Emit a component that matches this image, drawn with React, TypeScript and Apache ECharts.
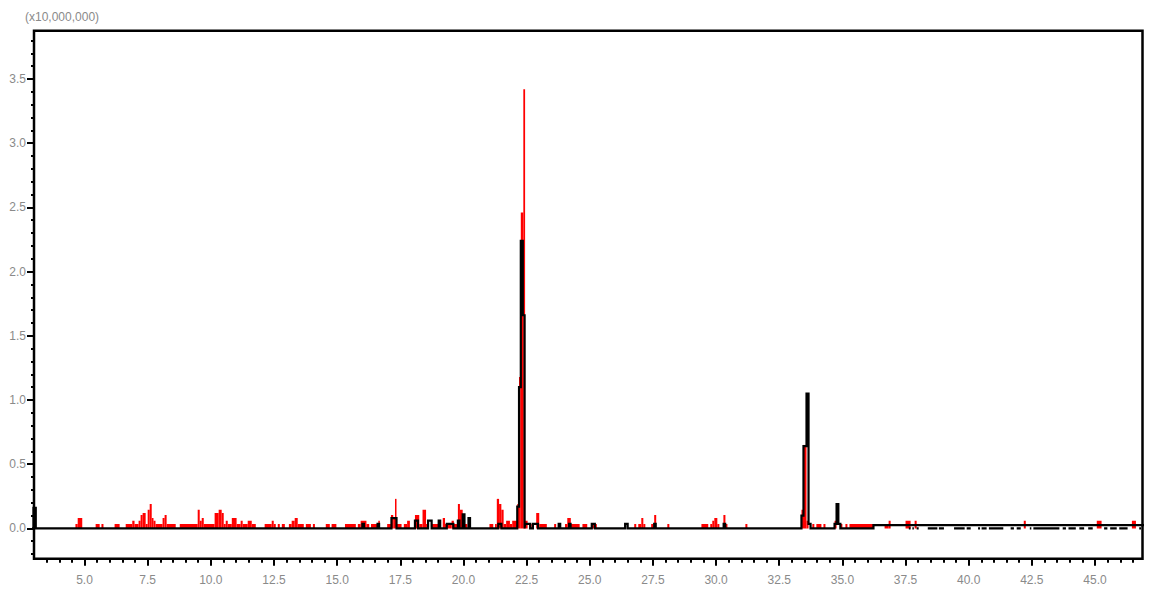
import React, { useEffect, useRef } from "react";
import * as echarts from "echarts";

const XMIN = 3.0;
const XMAX = 46.88;
const YMIN = -0.236;
const YMAX = 3.876;

const xMajorTicks = [5, 7.5, 10, 12.5, 15, 17.5, 20, 22.5, 25, 27.5, 30, 32.5, 35, 37.5, 40, 42.5, 45];
const yMajorTicks = [0, 0.5, 1.0, 1.5, 2.0, 2.5, 3.0, 3.5];
const yUnitLabel = "(x10,000,000)";

// red trace: [start time, end time, intensity]
const redRuns: number[][] = [
  [4.64, 4.73, 0.035], [4.73, 4.91, 0.08],
  [5.44, 5.6, 0.035], [5.67, 5.75, 0.035],
  [6.19, 6.39, 0.035],
  [6.63, 6.89, 0.035], [6.89, 6.98, 0.06], [6.98, 7.14, 0.035], [7.14, 7.22, 0.06], [7.22, 7.3, 0.105],
  [7.3, 7.42, 0.12], [7.42, 7.5, 0.035], [7.5, 7.58, 0.145], [7.58, 7.66, 0.19], [7.66, 7.73, 0.08],
  [7.73, 7.81, 0.06], [7.81, 8.09, 0.035], [8.09, 8.17, 0.08], [8.17, 8.25, 0.105], [8.25, 8.61, 0.035],
  [8.77, 9.48, 0.035], [9.48, 9.56, 0.145], [9.56, 9.64, 0.06], [9.64, 9.72, 0.08], [9.72, 10.15, 0.035],
  [10.15, 10.31, 0.12], [10.31, 10.43, 0.145], [10.43, 10.51, 0.12], [10.51, 10.59, 0.035], [10.59, 10.67, 0.06],
  [10.67, 10.83, 0.035], [10.83, 11.02, 0.08], [11.02, 11.18, 0.035], [11.18, 11.26, 0.06], [11.26, 11.46, 0.035],
  [11.46, 11.62, 0.06], [11.62, 11.78, 0.035],
  [12.13, 12.41, 0.035], [12.41, 12.49, 0.06], [12.49, 12.57, 0.035], [12.65, 12.73, 0.035], [12.81, 12.93, 0.035],
  [13.09, 13.2, 0.035], [13.2, 13.32, 0.06], [13.32, 13.44, 0.08], [13.44, 13.68, 0.035], [13.76, 13.96, 0.035],
  [14.04, 14.12, 0.035], [14.55, 14.71, 0.035],
  [14.78, 14.97, 0.035], [15.31, 15.74, 0.035], [15.82, 15.93, 0.035], [15.93, 16.16, 0.06], [16.16, 16.27, 0.035],
  [16.34, 16.63, 0.035], [16.63, 16.69, 0.06], [16.98, 17.13, 0.035], [17.13, 17.22, 0.105], [17.22, 17.29, 0.08],
  [17.29, 17.35, 0.23], [17.35, 17.55, 0.035], [17.64, 17.77, 0.035], [17.77, 17.88, 0.06], [18.08, 18.25, 0.105],
  [18.25, 18.38, 0.035], [18.38, 18.52, 0.145], [18.52, 18.61, 0.035], [18.74, 19.07, 0.035], [19.18, 19.27, 0.08],
  [19.27, 19.53, 0.035], [19.53, 19.62, 0.06], [19.62, 19.78, 0.035], [19.78, 19.86, 0.19], [19.86, 19.97, 0.145],
  [19.97, 20.06, 0.105], [20.06, 20.15, 0.035],
  [21.03, 21.18, 0.035], [21.25, 21.32, 0.035], [21.32, 21.41, 0.23], [21.41, 21.5, 0.19], [21.5, 21.59, 0.145],
  [21.59, 21.69, 0.035], [21.69, 21.84, 0.06], [21.84, 21.93, 0.035], [21.93, 22.13, 0.06], [22.13, 22.2, 0.19],
  [22.2, 22.27, 1.18], [22.27, 22.37, 2.46], [22.37, 22.44, 3.42], [22.44, 22.54, 0.06], [22.64, 22.7, 0.035],
  [22.88, 23.0, 0.12], [23.0, 23.3, 0.035], [23.59, 23.67, 0.035], [24.02, 24.11, 0.035], [24.11, 24.25, 0.08],
  [24.25, 24.6, 0.035], [24.71, 24.9, 0.035], [25.08, 25.28, 0.035],
  [26.76, 26.84, 0.035], [26.92, 27.04, 0.035], [27.04, 27.12, 0.08], [27.12, 27.2, 0.035], [27.43, 27.52, 0.035],
  [27.55, 27.63, 0.105], [28.07, 28.15, 0.035], [29.42, 29.69, 0.035], [29.77, 29.85, 0.035], [29.85, 29.93, 0.06],
  [29.93, 30.05, 0.08], [30.05, 30.13, 0.035], [30.29, 30.37, 0.105], [30.37, 30.45, 0.035], [31.16, 31.24, 0.035],
  [33.38, 33.44, 0.145], [33.44, 33.58, 0.65], [33.58, 33.66, 0.06], [33.81, 33.89, 0.035], [33.97, 34.17, 0.035],
  [34.25, 34.33, 0.035], [34.69, 34.77, 0.06], [34.92, 35.0, 0.035], [35.12, 35.2, 0.035], [35.28, 36.25, 0.035],
  [36.67, 36.83, 0.035], [36.83, 36.91, 0.06], [37.5, 37.7, 0.06], [37.86, 37.94, 0.06], [42.18, 42.26, 0.06],
  [45.07, 45.26, 0.06], [46.46, 46.62, 0.06],
];

// black trace: [start time, end time, intensity] steps above the baseline
const blackSteps: number[][] = [
  [2.98, 3.07, 0.16],
  [16.0, 16.06, 0.035], [16.6, 16.66, 0.035], [17.15, 17.35, 0.08], [18.08, 18.2, 0.06], [18.6, 18.74, 0.06],
  [19.02, 19.08, 0.06], [19.34, 19.6, 0.035], [19.78, 19.84, 0.06], [19.97, 20.04, 0.11], [20.2, 20.26, 0.08],
  [21.38, 21.5, 0.035],
  [22.13, 22.2, 0.17], [22.2, 22.27, 1.1], [22.27, 22.35, 2.24], [22.35, 22.42, 1.66],
  [22.44, 22.64, 0.035], [22.75, 22.95, 0.035], [23.77, 23.83, 0.035], [24.18, 24.24, 0.035], [25.08, 25.2, 0.035],
  [26.4, 26.5, 0.035], [27.55, 27.61, 0.035], [30.3, 30.36, 0.035],
  [33.38, 33.46, 0.1], [33.46, 33.58, 0.64], [33.58, 33.66, 1.05], [33.66, 33.74, 0.035],
  [34.69, 34.77, 0.035], [34.77, 34.84, 0.19], [34.84, 34.92, 0.035],
];

// late black drift: raised level from this time on, with noisy dips to the baseline in these intervals
const blackDriftStart = 36.23;
const blackDriftLevel = 0.025;
const blackDriftDips: number[][] = [
  [37.63, 37.7], [37.77, 37.83], [37.94, 38.02], [38.38, 38.76], [38.82, 39.02], [39.42, 39.84],
  [39.92, 40.08], [40.37, 40.45], [40.51, 40.71], [40.8, 41.37], [41.66, 41.79], [41.9, 42.06],
  [42.42, 42.48], [42.56, 43.59], [43.72, 43.85], [43.95, 44.24], [44.38, 44.57], [44.73, 44.91],
  [45.36, 45.49], [45.6, 45.86], [45.96, 46.29], [46.75, 46.82],
];

function buildBlackLine(): number[][] {
  const steps = blackSteps.slice();
  steps.push([blackDriftStart, XMAX + 0.2, blackDriftLevel]);
  steps.sort((p, q) => p[0] - q[0]);
  const pts: number[][] = [[XMIN - 0.2, 0]];
  for (let i = 0; i < steps.length; i++) {
    const [a, b, v] = steps[i];
    const prev = steps[i - 1];
    const next = steps[i + 1];
    if (!prev || Math.abs(prev[1] - a) > 1e-6) pts.push([a, 0]);
    pts.push([a, v], [b, v]);
    if (!next || Math.abs(next[0] - b) > 1e-6) pts.push([b, 0]);
  }
  pts.push([XMAX + 0.3, 0]);
  return pts;
}

function buildDipLine(): any[] {
  const pts: any[] = [];
  for (const [a, b] of blackDriftDips) {
    pts.push([a, 0], [b, 0], [b, "-"]);
  }
  return pts;
}

const xMinorTicks: number[] = [];
for (let i = 7; i <= 93; i++) xMinorTicks.push(i * 0.5);
const yMinorTicks: number[] = [];
for (let i = -2; i <= 38; i++) yMinorTicks.push(Math.round(i * 10) / 100);

const labelColor = "#8a8a8a";
const fontFamily = '"Liberation Sans", Arial, sans-serif';

export default function App() {
  const ref = useRef<HTMLDivElement>(null);
  useEffect(() => {
    if (!ref.current) return;
    const chart = echarts.init(ref.current, null, { renderer: "svg" });
    const tickStyle = { color: "#000", width: 2 };
    const option: any = {
      animation: false,
      grid: {
        left: 34,
        right: 11.5,
        top: 30.7,
        bottom: 35.3,
        show: true,
        borderColor: "#000",
        borderWidth: 2.5,
        backgroundColor: "transparent",
      },
      graphic: [
        {
          type: "text",
          left: 25,
          top: 11,
          style: { text: yUnitLabel, fill: labelColor, font: `12px ${fontFamily}` },
        },
      ],
      xAxis: [
        {
          type: "value",
          min: XMIN,
          max: XMAX,
          position: "bottom",
          axisLine: { show: false, onZero: false },
          splitLine: { show: false },
          axisTick: { show: true, customValues: xMajorTicks, length: 7, lineStyle: tickStyle },
          axisLabel: {
            customValues: xMajorTicks,
            formatter: (v: number) => v.toFixed(1),
            color: labelColor,
            fontSize: 12,
            fontFamily,
            margin: 15,
          },
        },
        {
          type: "value",
          min: XMIN,
          max: XMAX,
          position: "bottom",
          axisLine: { show: false, onZero: false },
          splitLine: { show: false },
          axisTick: { show: true, customValues: xMinorTicks, length: 4, lineStyle: tickStyle },
          axisLabel: { show: false },
        },
      ],
      yAxis: [
        {
          type: "value",
          min: YMIN,
          max: YMAX,
          position: "left",
          axisLine: { show: false, onZero: false },
          splitLine: { show: false },
          axisTick: { show: true, customValues: yMajorTicks, length: 7, lineStyle: tickStyle },
          axisLabel: {
            customValues: yMajorTicks,
            formatter: (v: number) => v.toFixed(1),
            color: labelColor,
            fontSize: 12,
            fontFamily,
            margin: 8,
          },
        },
        {
          type: "value",
          min: YMIN,
          max: YMAX,
          position: "left",
          axisLine: { show: false, onZero: false },
          splitLine: { show: false },
          axisTick: { show: true, customValues: yMinorTicks, length: 3, lineStyle: tickStyle },
          axisLabel: { show: false },
        },
      ],
      series: [
        {
          type: "custom",
          xAxisIndex: 0,
          yAxisIndex: 0,
          data: redRuns,
          encode: { x: [0, 1], y: 2 },
          clip: true,
          silent: true,
          z: 2,
          renderItem: (_params: any, api: any) => {
            const a = api.coord([api.value(0), 0]);
            const b = api.coord([api.value(1), api.value(2)]);
            return {
              type: "rect",
              shape: { x: a[0], y: b[1], width: Math.max(b[0] - a[0], 1), height: a[1] - b[1] },
              style: { fill: "#ff0000" },
            };
          },
        },
        {
          type: "line",
          xAxisIndex: 0,
          yAxisIndex: 0,
          data: buildBlackLine(),
          symbol: "none",
          showSymbol: false,
          clip: true,
          silent: true,
          z: 3,
          lineStyle: { color: "#000", width: 2.2, join: "miter", cap: "butt" },
        },
        {
          type: "line",
          xAxisIndex: 0,
          yAxisIndex: 0,
          data: buildDipLine(),
          connectNulls: false,
          symbol: "none",
          showSymbol: false,
          clip: true,
          silent: true,
          z: 3,
          lineStyle: { color: "#000", width: 2.2, join: "miter", cap: "butt" },
        },
      ],
    };
    chart.setOption(option);
    return () => chart.dispose();
  }, []);
  return (
    <div
      ref={ref}
      style={{ position: "absolute", left: 0, top: 0, width: 1154, height: 594, background: "#fff" }}
    />
  );
}
